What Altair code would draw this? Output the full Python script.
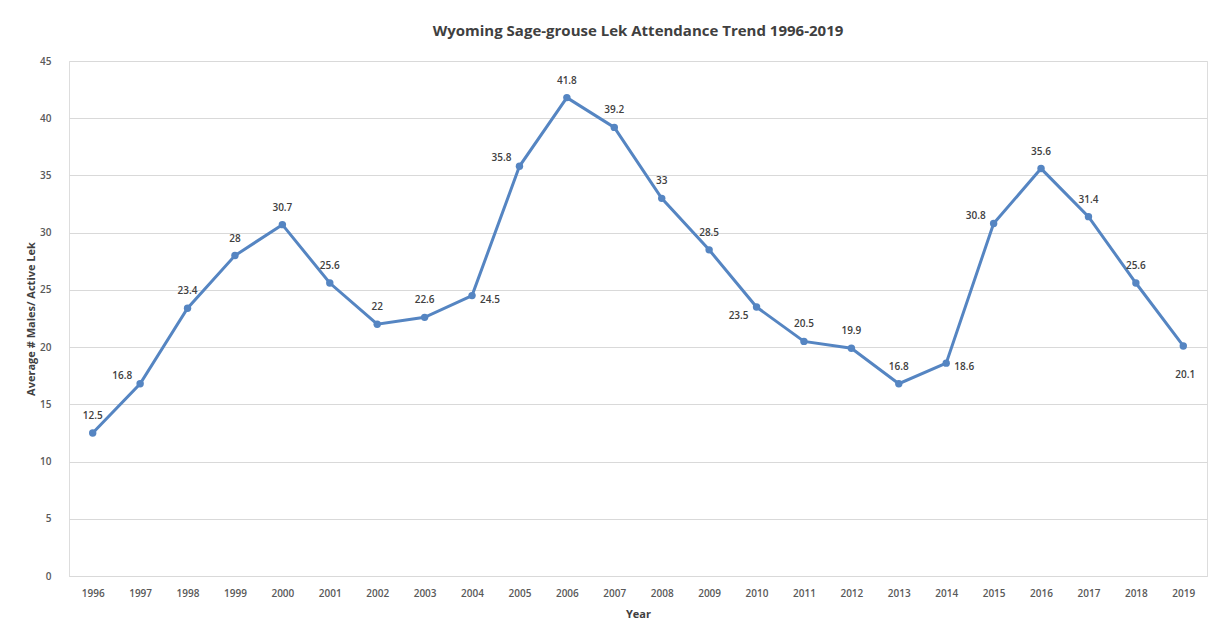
import altair as alt
import pandas as pd

years = [str(y) for y in range(1996, 2020)]
values = [12.5, 16.8, 23.4, 28, 30.7, 25.6, 22, 22.6, 24.5, 35.8, 41.8, 39.2,
          33, 28.5, 23.5, 20.5, 19.9, 16.8, 18.6, 30.8, 35.6, 31.4, 25.6, 20.1]
labels = ["12.5", "16.8", "23.4", "28", "30.7", "25.6", "22", "22.6", "24.5", "35.8",
          "41.8", "39.2", "33", "28.5", "23.5", "20.5", "19.9", "16.8", "18.6", "30.8",
          "35.6", "31.4", "25.6", "20.1"]
label_side = ["above", "left", "above", "above", "above", "above", "above", "above",
              "right", "left", "above", "above", "above", "above", "belowleft", "above",
              "above", "above", "right", "left", "above", "above", "above", "below"]

df = pd.DataFrame({"Year": years, "Value": values, "Label": labels, "Side": label_side})

FONT = "Open Sans"
BLUE = "#5585C2"

base = alt.Chart(df).encode(
    x=alt.X("Year:N", sort=years,
            scale=alt.Scale(type="point", padding=0.5),
            axis=alt.Axis(title="Year", labelAngle=0, ticks=False, domain=True,
                          domainColor="#D9D9D9", labelPadding=12, titlePadding=10,
                          labelFontSize=10, labelFontWeight=600, labelColor="#595959",
                          titleFontSize=11, titleColor="#404040", titleFontWeight="bold",
                          grid=False, labelFont=FONT, titleFont=FONT)),
    y=alt.Y("Value:Q", scale=alt.Scale(domain=[0, 45], nice=False),
            axis=alt.Axis(title="Average #  Males/ Active Lek", values=list(range(0, 50, 5)),
                          ticks=False, domain=False, grid=True, gridColor="#D9D9D9",
                          labelPadding=18, titlePadding=3, labelFontSize=10,
                          labelFontWeight=600, labelColor="#595959", titleFontSize=11,
                          titleColor="#404040", titleFontWeight="bold",
                          labelFont=FONT, titleFont=FONT)),
)

line = base.mark_line(color=BLUE, strokeWidth=3)
points = base.mark_point(filled=True, color=BLUE, size=55, opacity=1)

offsets = {
    "above": dict(dx=0, dy=-17, align="center"),
    "left": dict(dx=-8, dy=-8, align="right"),
    "right": dict(dx=8, dy=4, align="left"),
    "belowleft": dict(dx=-8, dy=9, align="right"),
    "below": dict(dx=2, dy=29, align="center"),
}

text_layers = []
for side, o in offsets.items():
    text_layers.append(
        base.mark_text(font=FONT, fontSize=10, fontWeight=600, color="#404040",
                       baseline="middle", dx=o["dx"], dy=o["dy"], align=o["align"])
        .encode(text="Label:N")
        .transform_filter(alt.datum.Side == side)
    )

chart = alt.layer(line, points, *text_layers).properties(
    width=1138, height=515,
    autosize=alt.AutoSizeParams(type="none"),
    padding={"left": 61, "top": 53, "right": 7, "bottom": 45},
    title=alt.TitleParams("Wyoming Sage-grouse Lek Attendance Trend 1996-2019",
                          font=FONT, fontSize=15, fontWeight="bold", color="#404040",
                          offset=17, anchor="middle"),
).configure_view(stroke=None).configure(background="white")

chart.save("out.html", embed_options={"renderer": "svg", "actions": False})
